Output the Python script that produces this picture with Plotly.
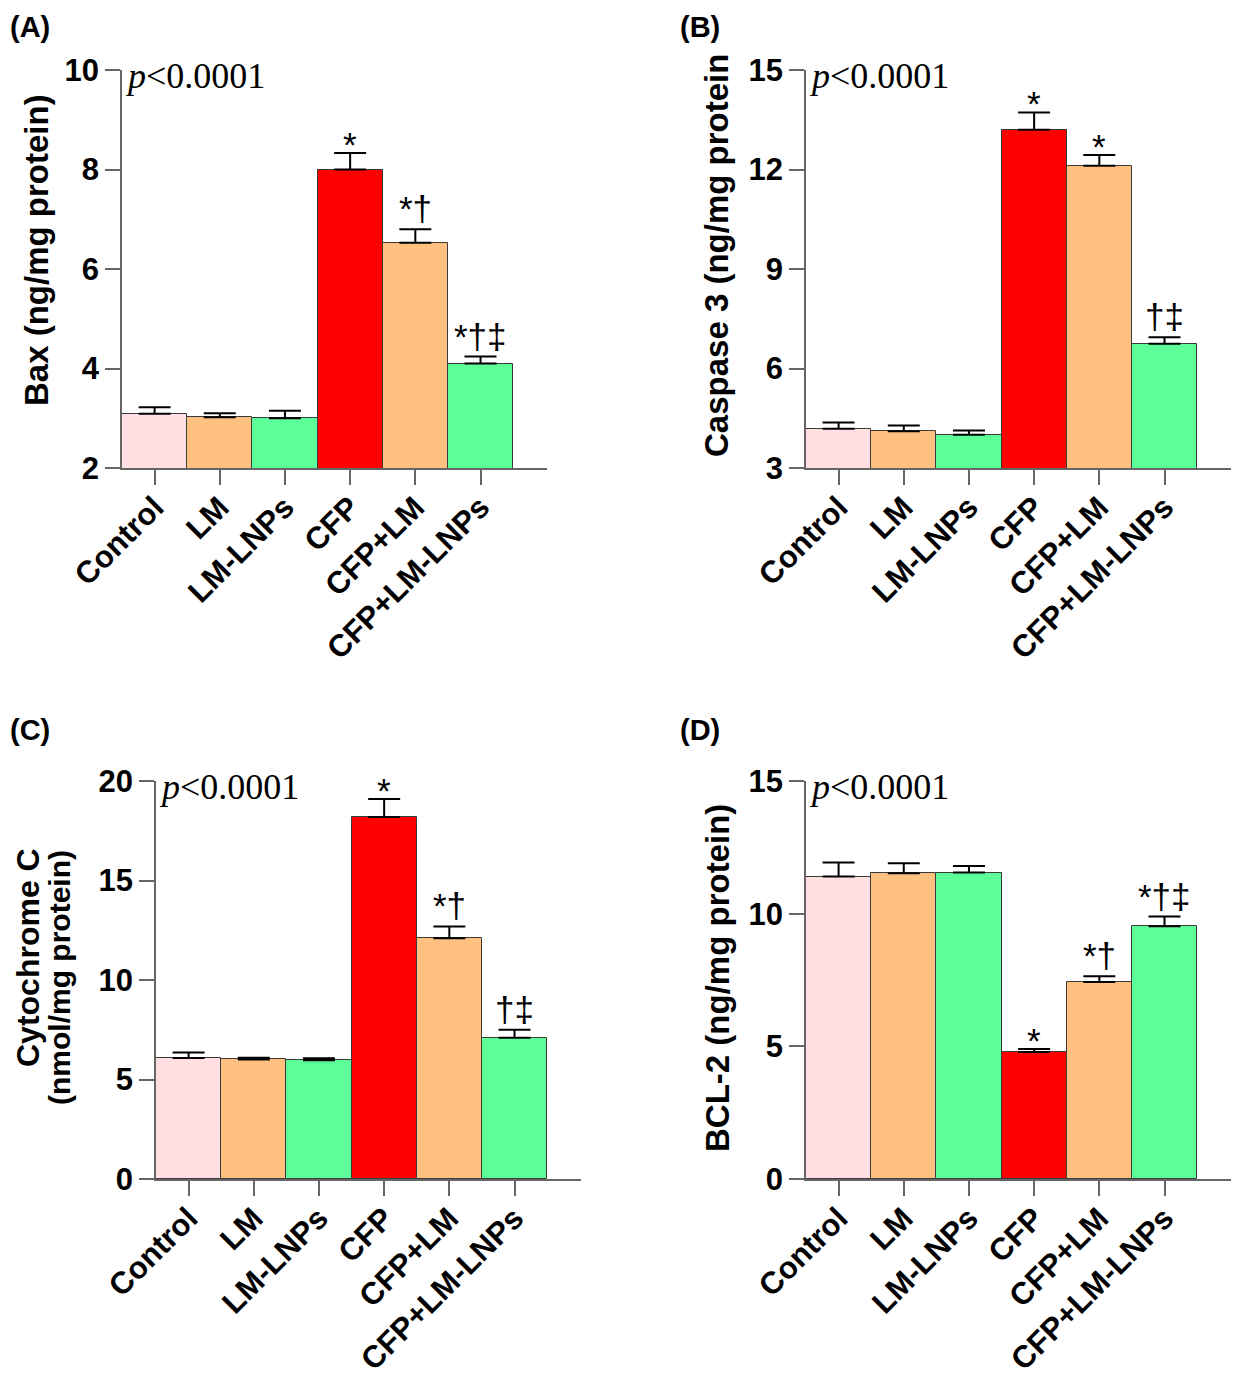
import plotly.graph_objects as go

W, H = 1240, 1377
OFF = 8                      # default page margin of the body element
FW, FH = W - OFF, H - OFF    # figure size

categories = ["Control", "LM", "LM-LNPs", "CFP", "CFP+LM", "CFP+LM-LNPs"]
colors = ["#FFDFE2", "#FFC080", "#5CFF98", "#FF0000", "#FFC080", "#5CFF98"]

bax_mean = [3.09, 3.02, 3.00, 8.00, 6.53, 4.10]
bax_err = [0.13, 0.08, 0.15, 0.33, 0.27, 0.14]
bax_sig = ["", "", "", "*", "*†", "*†‡"]

casp_mean = [4.18, 4.11, 4.00, 13.20, 12.11, 6.75]
casp_err = [0.19, 0.17, 0.13, 0.52, 0.33, 0.19]
casp_sig = ["", "", "", "*", "*", "†‡"]

cyto_mean = [6.08, 6.01, 5.97, 18.19, 12.10, 7.10]
cyto_err = [0.28, 0.08, 0.10, 0.90, 0.59, 0.40]
cyto_sig = ["", "", "", "*", "*†", "†‡"]

bcl_mean = [11.40, 11.52, 11.55, 4.79, 7.42, 9.53]
bcl_err = [0.53, 0.38, 0.25, 0.11, 0.22, 0.36]
bcl_sig = ["", "", "", "*", "*†", "*†‡"]

panels = [
    dict(label="(A)", mean=bax_mean, err=bax_err, sig=bax_sig, yr=[2, 10], dt=2,
         titles=[("Bax (ng/mg protein)", 36, 250, 33)],
         px=(122, 70, 468), lab=(30, 27)),
    dict(label="(B)", mean=casp_mean, err=casp_err, sig=casp_sig, yr=[3, 15], dt=3,
         titles=[("Caspase 3 (ng/mg protein", 716, 256, 33)],
         px=(806, 70, 468), lab=(700, 27)),
    dict(label="(C)", mean=cyto_mean, err=cyto_err, sig=cyto_sig, yr=[0, 20], dt=5,
         titles=[("Cytochrome C", 28, 958, 32), ("(nmol/mg protein)", 60, 978, 30)],
         px=(156, 781, 1179), lab=(30, 730)),
    dict(label="(D)", mean=bcl_mean, err=bcl_err, sig=bcl_sig, yr=[0, 15], dt=5,
         titles=[("BCL-2 (ng/mg protein)", 718, 978, 33)],
         px=(806, 781, 1179), lab=(700, 730)),
]

PLOT_W = 425
SANS = "Liberation Sans, Arial, sans-serif"
SERIF = "Liberation Serif, Times New Roman, serif"


def fx(px):
    return (px - OFF) / FW


def fy(py):
    return 1 - (py - OFF) / FH


fig = go.Figure()
annotations = []
layout = {}

for i, p in enumerate(panels):
    n = "" if i == 0 else str(i + 1)
    xa, ya = "x" + n, "y" + n
    x0, ytop, ybot = p["px"]
    fig.add_trace(go.Bar(
        x=list(range(len(categories))), y=p["mean"],
        marker=dict(color=colors, line=dict(color="#3a3a3a", width=1)),
        error_y=dict(type="data", array=p["err"], arrayminus=[0] * len(categories),
                     symmetric=False, color="black", thickness=2, width=16),
        width=1.0, xaxis=xa, yaxis=ya, showlegend=False,
    ))
    layout["xaxis" + n] = dict(
        domain=[fx(x0), fx(x0 + PLOT_W)], anchor=ya, range=[-0.5, 6.02],
        tickmode="array", tickvals=list(range(len(categories))), ticktext=categories,
        tickangle=-45, ticks="outside", ticklen=15, tickwidth=1.5, tickcolor="#666",
        ticklabelstandoff=-8,
        showline=True, linecolor="#666", linewidth=1.5, showgrid=False, zeroline=False,
        tickfont=dict(family=SANS, size=31, color="black", weight="bold"),
        automargin=False, fixedrange=True,
    )
    layout["yaxis" + n] = dict(
        domain=[fy(ybot), fy(ytop)], anchor=xa, range=p["yr"], dtick=p["dt"],
        tick0=p["yr"][0], ticks="outside", ticklen=15, tickwidth=1.5, tickcolor="#666",
        showline=True, linecolor="#666", linewidth=1.5, showgrid=False, zeroline=False,
        tickfont=dict(family=SANS, size=31, color="black", weight="bold"),
        automargin=False, fixedrange=True,
    )
    # significance marks
    for k, s in enumerate(p["sig"]):
        if s:
            annotations.append(dict(
                x=k, y=p["mean"][k] + p["err"][k], xref=xa, yref=ya, text=s,
                showarrow=False, yanchor="bottom", xanchor="center",
                yshift=-13 if s == "*" else -1,
                font=dict(family=SANS, size=35, color="black"),
            ))
    # p-value
    annotations.append(dict(
        x=fx(x0 + 1), y=fy(ytop + 6), xref="paper", yref="paper",
        text="<i>p</i><0.0001", showarrow=False, xanchor="left", yanchor="middle",
        font=dict(family=SERIF, size=36, color="black"),
    ))
    # panel label
    annotations.append(dict(
        x=fx(p["lab"][0]), y=fy(p["lab"][1]), xref="paper", yref="paper",
        text="<b>" + p["label"] + "</b>", showarrow=False, xanchor="center", yanchor="middle",
        font=dict(family=SANS, size=29, color="black"),
    ))
    # y title(s)
    for (t, tx, ty, ts) in p["titles"]:
        annotations.append(dict(
            x=fx(tx), y=fy(ty), xref="paper", yref="paper",
            text="<b>" + t + "</b>", showarrow=False, xanchor="center", yanchor="middle",
            textangle=-90, font=dict(family=SANS, size=ts, color="black"),
        ))

fig.update_layout(
    width=FW, height=FH, margin=dict(l=0, r=0, t=0, b=0),
    paper_bgcolor="white", plot_bgcolor="white", bargap=0,
    annotations=annotations, **layout,
)

fig.write_html("out.html")
